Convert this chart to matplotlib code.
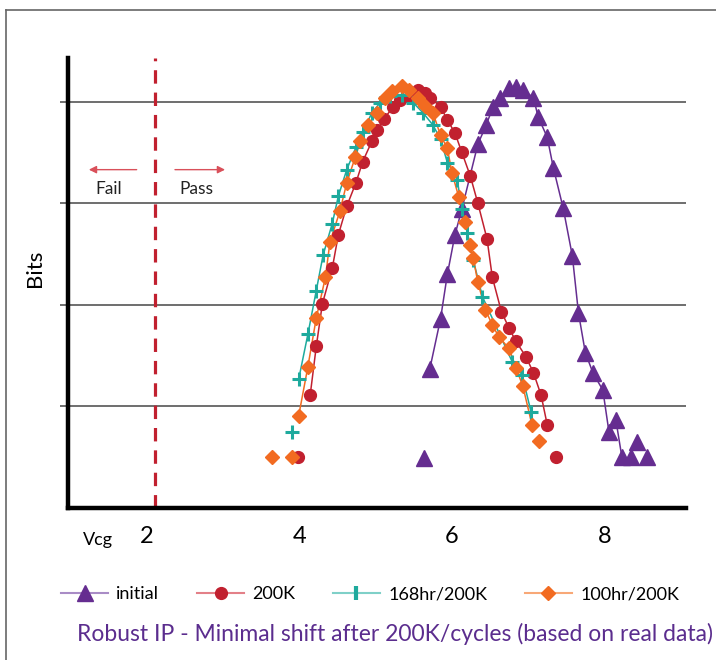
import matplotlib.pyplot as plt
from matplotlib.lines import Line2D

# Values (Vcg on x, bit count on an unlabelled scale)
initial_x = [5.64, 5.71, 5.85, 5.94, 6.04, 6.13, 6.34, 6.45, 6.54, 6.63, 6.75, 6.84, 6.93,
             7.07, 7.13, 7.25, 7.33, 7.46, 7.58, 7.66, 7.75, 7.85, 7.98, 8.06, 8.15, 8.23,
             8.35, 8.43, 8.56]
initial_y = [0.49, 1.37, 1.86, 2.30, 2.69, 2.94, 3.58, 3.77, 3.95, 4.04, 4.13, 4.14, 4.11,
             4.04, 3.85, 3.65, 3.35, 2.95, 2.48, 1.92, 1.53, 1.33, 1.16, 0.75, 0.87, 0.50,
             0.50, 0.65, 0.50]

k200_x = [3.98, 4.14, 4.22, 4.30, 4.43, 4.51, 4.62, 4.74, 4.83, 4.95, 5.02, 5.11, 5.23,
          5.32, 5.45, 5.56, 5.65, 5.71, 5.85, 5.94, 6.04, 6.13, 6.24, 6.34, 6.46, 6.53,
          6.65, 6.75, 6.84, 6.97, 7.07, 7.17, 7.25, 7.37]
k200_y = [0.50, 1.11, 1.59, 2.01, 2.36, 2.69, 2.97, 3.20, 3.41, 3.61, 3.72, 3.83, 3.95,
          4.02, 4.05, 4.11, 4.08, 4.04, 3.95, 3.82, 3.69, 3.50, 3.27, 3.00, 2.65, 2.27,
          1.93, 1.77, 1.64, 1.49, 1.33, 1.11, 0.82, 0.50]

hr168_x = [3.90, 3.99, 4.11, 4.22, 4.31, 4.43, 4.51, 4.62, 4.74, 4.83, 4.95, 5.06, 5.19,
           5.35, 5.49, 5.62, 5.75, 5.85, 5.94, 6.07, 6.13, 6.20, 6.28, 6.40, 6.79, 6.92,
           7.04]
hr168_y = [0.75, 1.27, 1.71, 2.14, 2.49, 2.80, 3.07, 3.33, 3.55, 3.70, 3.89, 3.99, 4.05,
           4.06, 3.99, 3.89, 3.77, 3.63, 3.40, 3.23, 2.94, 2.71, 2.44, 2.08, 1.44, 1.31,
           0.94]

hr100_x = [3.64, 3.90, 3.99, 4.11, 4.22, 4.34, 4.40, 4.53, 4.62, 4.73, 4.80, 4.90, 5.02,
           5.12, 5.22, 5.35, 5.44, 5.56, 5.65, 5.75, 5.85, 5.94, 6.00, 6.09, 6.17, 6.24,
           6.28, 6.34, 6.44, 6.53, 6.62, 6.75, 6.84, 6.93, 7.05, 7.14]
hr100_y = [0.50, 0.50, 0.91, 1.39, 1.87, 2.27, 2.62, 2.92, 3.20, 3.45, 3.61, 3.77, 3.89,
           4.04, 4.10, 4.15, 4.11, 4.04, 3.96, 3.89, 3.67, 3.54, 3.30, 3.06, 2.81, 2.59,
           2.46, 2.22, 1.95, 1.80, 1.68, 1.57, 1.38, 1.20, 0.82, 0.66]

xticks = [2, 4, 6, 8]
threshold = 2.1

purple = "#652d90"
red = "#c1202f"
teal = "#1eaa9d"
orange = "#f26b21"

plt.rcParams['font.family'] = ['Lato', 'DejaVu Sans']

fig = plt.figure(figsize=(7.16, 6.6), dpi=100)
ax = fig.add_axes([0.095, 0.2303, 0.863, 0.682])

# outer frame (only top and left visible in the original)
fig.add_artist(Line2D([6/716, 6/716], [0, 1 - 10/660], color="#666666", lw=1.2))
fig.add_artist(Line2D([6/716, 1], [1 - 10/660, 1 - 10/660], color="#666666", lw=1.2))

# series: lines skip the loose points at the ends
ax.plot(initial_x[1:-3], initial_y[1:-3], color=purple, lw=1.1, zorder=2)
ax.plot(initial_x, initial_y, ls="none", marker="^", ms=11, color=purple, zorder=3)

ax.plot(k200_x[1:-1], k200_y[1:-1], color=red, lw=1.1, zorder=2)
ax.plot(k200_x, k200_y, ls="none", marker="o", ms=8.5, color=red, zorder=4)

ax.plot(hr168_x[1:], hr168_y[1:], color=teal, lw=1.1, zorder=2)
ax.plot(hr168_x, hr168_y, ls="none", marker="+", ms=10, mew=2.2, color=teal, zorder=5)

ax.plot(hr100_x[2:-1], hr100_y[2:-1], color=orange, lw=1.1, zorder=2)
ax.plot(hr100_x, hr100_y, ls="none", marker="D", ms=7, color=orange, zorder=6)

# pass / fail threshold
ax.axvline(threshold, color=red, lw=2.3, ls=(0, (4.2, 2.8)), zorder=1)
ax.annotate("", xy=(1.2, 3.33), xytext=(1.9, 3.33),
            arrowprops=dict(arrowstyle="-|>", color="#d9505a", lw=1.0, mutation_scale=11))
ax.annotate("", xy=(3.06, 3.33), xytext=(2.33, 3.33),
            arrowprops=dict(arrowstyle="-|>", color="#d9505a", lw=1.0, mutation_scale=11))
ax.text(1.5, 3.14, "Fail", fontsize=12.5, ha="center", va="center", color="#222222")
ax.text(2.65, 3.14, "Pass", fontsize=12.5, ha="center", va="center", color="#222222")

ax.set_xlim(0.963, 9.07)
ax.set_ylim(0, 4.43)
ax.set_yticks([1, 2, 3, 4])
ax.set_yticklabels([])
ax.grid(axis="y", color="#555555", lw=1.2, zorder=0)
ax.tick_params(axis="y", length=6, width=1.2, color="#555555", direction="out")
ax.set_xticks(xticks)
ax.set_xticklabels([str(t) for t in xticks], fontsize=17)
ax.tick_params(axis="x", length=0, pad=13)
for s in ["top", "right"]:
    ax.spines[s].set_visible(False)
for s in ["left", "bottom"]:
    ax.spines[s].set_linewidth(3.2)
    ax.spines[s].set_color("black")
ax.set_axisbelow(True)

fig.text(35/716, 1 - 268/660, "Bits", rotation=90, fontsize=16, ha="center", va="center")
fig.text(98/716, 1 - 540/660, "Vcg", fontsize=13, ha="center", va="center")

handles = [
    Line2D([], [], color="#a98cc6", lw=1.5, marker="^", ms=11, mfc=purple, mec=purple),
    Line2D([], [], color="#e38088", lw=1.5, marker="o", ms=8.5, mfc=red, mec=red),
    Line2D([], [], color="#7fd0c8", lw=1.5, marker="|", ms=10, mew=3, mec=teal),
    Line2D([], [], color="#f8a877", lw=1.5, marker="D", ms=7, mfc=orange, mec=orange),
]
fig.legend(handles, ["initial", "200K", "168hr/200K", "100hr/200K"], loc="center",
           bbox_to_anchor=(370/716, 1 - 594/660), ncol=4, frameon=False, fontsize=13,
           handlelength=2.6, columnspacing=2.1, handletextpad=0.45)

fig.text(395/716, 1 - 634/660, "Robust IP - Minimal shift after 200K/cycles (based on real data)",
         fontsize=16.5, color="#5b2d8e", ha="center", va="center")

fig.savefig("out.png", dpi=100)
